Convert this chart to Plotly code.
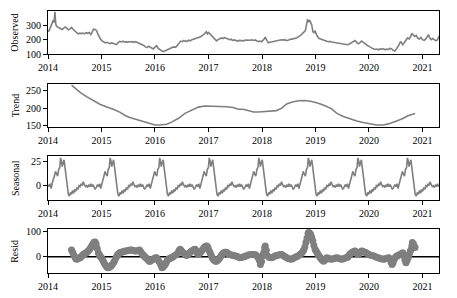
import pandas as pd
import plotly.graph_objects as go
from plotly.subplots import make_subplots

# ---------------- data (decimal years since 2014-01-01) ----------------
OBS_T = [0.00,0.02,0.04,0.06,0.08,0.10,0.115,0.125,0.13,0.14,0.15,0.17,0.20,0.23,0.26,0.29,0.32,0.35,0.38,0.41,
         0.44,0.47,0.50,0.53,0.56,0.59,0.62,0.65,0.68,0.71,0.74,0.77,0.80,0.83,0.85,0.88,0.91,0.93,0.95,0.98,
         1.01,1.04,1.07,1.10,1.13,1.16,1.19,1.22,1.25,1.28,1.31,1.34,1.37,1.40,1.43,1.46,1.49,1.52,1.55,1.58,
         1.61,1.64,1.67,1.70,1.73,1.76,1.79,1.82,1.85,1.88,1.91,1.94,1.97,2.00,2.03,2.06,2.09,2.12,2.15,2.18,
         2.21,2.24,2.27,2.30,2.33,2.36,2.39,2.42,2.45,2.48,2.51,2.54,2.57,2.60,2.63,2.66,2.69,2.72,2.75,2.78,
         2.81,2.84,2.87,2.90,2.93,2.96,2.98,3.00,3.03,3.06,3.09,3.12,3.15,3.18,3.21,3.24,3.27,3.30,3.33,3.36,
         3.39,3.42,3.45,3.48,3.51,3.54,3.57,3.60,3.63,3.66,3.69,3.72,3.75,3.78,3.81,3.84,3.87,3.90,3.93,3.96,
         3.99,4.03,4.06,4.09,4.12,4.15,4.18,4.21,4.24,4.27,4.30,4.33,4.36,4.39,4.42,4.45,4.48,4.51,4.54,4.57,
         4.60,4.63,4.66,4.69,4.72,4.75,4.78,4.81,4.83,4.85,4.87,4.89,4.91,4.93,4.95,4.97,4.99,5.01,5.03,5.06,
         5.09,5.12,5.15,5.18,5.21,5.24,5.27,5.30,5.33,5.36,5.39,5.42,5.45,5.48,5.51,5.54,5.57,5.60,5.63,5.66,
         5.69,5.72,5.74,5.77,5.80,5.83,5.86,5.88,5.91,5.94,5.97,6.00,6.03,6.06,6.09,6.12,6.15,6.18,6.21,6.24,
         6.27,6.30,6.33,6.36,6.39,6.42,6.45,6.48,6.50,6.53,6.56,6.59,6.61,6.63,6.66,6.69,6.72,6.75,6.78,6.80,
         6.82,6.85,6.88,6.91,6.94,6.97,7.00,7.03,7.06,7.09,7.11,7.13,7.16,7.19,7.22,7.25,7.28,7.31]
OBS_V = [255,262,280,300,322,335,318,360,392,330,300,290,282,275,270,278,288,280,268,275,
         285,272,262,250,240,245,242,246,240,248,244,250,236,255,272,270,262,240,222,205,
         192,185,178,182,175,172,178,176,168,166,180,188,184,190,183,186,182,187,184,186,
         182,187,180,176,172,165,160,150,145,155,150,140,136,150,158,140,132,125,118,122,
         128,133,138,142,148,150,148,162,180,190,186,195,190,188,196,192,200,203,208,212,
         210,218,225,232,242,255,240,250,238,228,218,200,192,200,208,212,208,214,210,206,
         200,203,195,198,192,190,195,193,196,192,197,196,192,196,199,195,198,190,186,190,
         185,200,217,195,178,182,185,188,186,192,194,196,199,197,200,195,194,200,205,204,
         210,208,214,220,230,240,250,262,300,340,325,335,318,300,255,248,262,240,225,210,
         205,200,196,192,189,186,188,184,182,178,180,175,172,170,168,166,168,165,170,178,
         185,192,194,180,172,180,190,185,175,168,160,154,145,140,136,132,135,130,136,134,
         138,130,135,132,140,138,126,122,130,145,165,188,175,165,180,200,212,205,222,245,
         235,222,230,210,205,215,200,195,205,220,235,215,200,208,198,192,200,225]

TREND_T = [0.44,0.50,0.60,0.72,0.85,0.97,1.10,1.22,1.35,1.44,1.53,1.66,1.78,1.91,2.00,2.09,2.22,2.31,2.44,2.56,
           2.69,2.81,2.93,3.09,3.21,3.34,3.46,3.56,3.65,3.74,3.84,3.93,4.02,4.15,4.27,4.37,4.46,4.55,4.68,4.80,
           4.93,5.05,5.18,5.30,5.40,5.52,5.64,5.77,5.89,6.02,6.14,6.27,6.36,6.49,6.61,6.74,6.86]
TREND_V = [266,257,245,233,222,211,203,197,188,179,173,168,162,156,152,152,154,160,171,185,
           195,203,206,206,206,204,202,197,197,193,189,189,190,191,193,200,212,217,221,222,
           219,214,207,198,185,176,169,163,159,155,152,152,155,162,169,179,185]

# one seasonal cycle (offsets in years within the cycle) and its period
SEAS_PERIOD = 0.926
SEAS_OFF = [0.000,0.02,0.04,0.06,0.08,0.10,0.12,0.14,0.16,0.18,0.20,0.22,0.235,0.25,0.265,0.28,0.30,0.32,0.34,0.36,
            0.38,0.40,0.42,0.44,0.46,0.48,0.50,0.52,0.54,0.56,0.58,0.60,0.62,0.64,0.66,0.68,0.70,0.72,0.74,0.76,
            0.78,0.80,0.82,0.84,0.86,0.88,0.90,0.915]
SEAS_V = [1,-1,2,-3,3,6,10,15,12,10,17,19,29,26,20,24,27,18,8,-2,
          -9,-11,-7,-9,-5,-8,-4,-6,-2,-4,0,-1,2,0,4,1,-1,0,-2,1,
          -1,2,-1,1,-1,-4,-2,0]

RESID_T = [0.44,0.46,0.48,0.50,0.52,0.54,0.56,0.58,0.60,0.62,0.64,0.66,0.68,0.70,0.72,0.74,0.76,0.78,0.80,0.82,
           0.84,0.86,0.88,0.90,0.92,0.94,0.96,0.98,1.00,1.02,1.04,1.06,1.08,1.10,1.12,1.14,1.16,1.18,1.20,1.22,
           1.24,1.26,1.28,1.30,1.32,1.34,1.36,1.38,1.41,1.44,1.47,1.50,1.53,1.56,1.59,1.62,1.65,1.68,1.71,1.73,
           1.75,1.77,1.79,1.81,1.83,1.85,1.87,1.89,1.91,1.93,1.95,1.97,1.99,2.01,2.03,2.05,2.07,2.09,2.11,2.13,
           2.15,2.17,2.19,2.21,2.23,2.25,2.27,2.29,2.31,2.34,2.37,2.40,2.43,2.45,2.47,2.49,2.51,2.53,2.55,2.57,
           2.59,2.61,2.63,2.65,2.67,2.70,2.73,2.75,2.77,2.79,2.81,2.83,2.85,2.87,2.89,2.91,2.93,2.95,2.97,2.99,
           3.01,3.03,3.05,3.07,3.09,3.11,3.13,3.15,3.17,3.19,3.21,3.23,3.25,3.27,3.29,3.31,3.33,3.35,3.37,3.40,
           3.43,3.46,3.49,3.52,3.55,3.58,3.61,3.64,3.67,3.70,3.73,3.76,3.79,3.82,3.85,3.88,3.91,3.93,3.95,3.97,
           3.99,4.01,4.03,4.05,4.06,4.08,4.10,4.13,4.16,4.19,4.22,4.25,4.28,4.31,4.34,4.37,4.40,4.43,4.46,4.49,
           4.52,4.55,4.58,4.61,4.64,4.67,4.70,4.72,4.74,4.76,4.78,4.80,4.82,4.84,4.86,4.87,4.89,4.91,4.93,4.95,
           4.97,4.99,5.01,5.03,5.05,5.07,5.09,5.11,5.13,5.15,5.17,5.19,5.21,5.24,5.27,5.30,5.33,5.36,5.39,5.42,
           5.45,5.48,5.51,5.54,5.57,5.60,5.62,5.64,5.66,5.68,5.70,5.72,5.74,5.76,5.78,5.80,5.82,5.84,5.86,5.88,
           5.90,5.93,5.96,5.99,6.02,6.05,6.08,6.11,6.14,6.17,6.20,6.23,6.26,6.29,6.32,6.35,6.37,6.39,6.41,6.43,
           6.45,6.47,6.49,6.51,6.53,6.55,6.57,6.59,6.61,6.63,6.65,6.67,6.69,6.71,6.73,6.75,6.77,6.79,6.80,6.81,
           6.83,6.85,6.86]
RESID_V = [26,18,8,0,-8,-10,-8,-5,-4,0,5,9,12,14,16,20,24,29,36,44,
           50,56,57,50,32,16,8,0,-4,-12,-20,-28,-34,-40,-43,-42,-38,-36,-30,-24,
           -17,-8,0,8,12,16,18,18,20,22,22,24,26,26,24,22,22,24,26,20,
           14,9,4,0,-4,-8,-12,-17,-17,-14,-10,-10,-7,-4,-4,-10,-16,-23,-32,-43,
           -40,-34,-30,-22,-14,-10,-7,-5,-4,0,5,9,16,24,29,24,18,16,12,8,
           5,8,12,16,20,24,28,29,22,14,9,14,18,22,28,34,39,41,42,36,
           24,16,6,-4,-10,-14,-17,-17,-14,-10,-4,2,8,14,16,18,18,16,12,9,
           7,5,4,2,0,-4,-3,-1,0,3,6,8,9,9,9,8,2,-4,-14,-30,
           -18,4,16,35,42,25,4,-2,-4,-3,0,4,5,7,9,9,4,0,-4,-7,
           -9,-10,-7,-3,0,3,7,10,15,20,26,38,55,72,90,94,92,87,75,61,
           44,29,22,16,8,2,-4,-10,-14,-17,-14,-9,-4,-6,-9,-10,-8,-6,-4,-5,
           -8,-10,-9,-6,-4,-2,4,10,14,16,19,21,22,17,12,9,14,19,22,21,
           19,18,14,9,7,5,4,1,-2,-4,-6,-8,-10,-9,-7,-5,-4,-10,-20,-30,
           -22,-10,-3,2,4,6,8,10,13,16,5,-12,-23,-15,-4,10,22,29,42,55,
           50,40,36]

X_START = "2014-01-01"
X_END = "2021-04-23"
TICK_YEARS = ["2014", "2015", "2016", "2017", "2018", "2019", "2020", "2021"]
PANEL_TITLES = ["Observed", "Trend", "Seasonal", "Resid"]

# ---------------- helpers ----------------
BASE = pd.Timestamp(X_START)


def to_dates(ts):
    return [BASE + pd.Timedelta(days=float(t) * 365.25) for t in ts]


# seasonal component repeats with its period over the whole span
seas_t, seas_v = [], []
k = 0
while k * SEAS_PERIOD < 7.32:
    for o, v in zip(SEAS_OFF, SEAS_V):
        t = k * SEAS_PERIOD + o
        if t <= 7.31:
            seas_t.append(t)
            seas_v.append(v)
    k += 1

GRAY = "#7f7f7f"
FONT = "Liberation Serif"

fig = make_subplots(rows=4, cols=1, shared_xaxes=False)

fig.add_trace(go.Scatter(x=to_dates(OBS_T), y=OBS_V, mode="lines",
                         line=dict(color=GRAY, width=1.6)), row=1, col=1)
fig.add_trace(go.Scatter(x=to_dates(TREND_T), y=TREND_V, mode="lines",
                         line=dict(color=GRAY, width=1.6)), row=2, col=1)
fig.add_trace(go.Scatter(x=to_dates(seas_t), y=seas_v, mode="lines",
                         line=dict(color=GRAY, width=1.6)), row=3, col=1)
fig.add_trace(go.Scatter(x=[X_START, X_END], y=[0, 0], mode="lines",
                         line=dict(color="black", width=1.5)), row=4, col=1)
fig.add_trace(go.Scatter(x=to_dates(RESID_T), y=RESID_V, mode="markers",
                         marker=dict(color=GRAY, size=7, line=dict(width=0))), row=4, col=1)

W, H = 457, 298
x0, x1 = 48 / W, 439 / W
ydoms = [(11, 54.3), (84, 126.7), (156, 200), (229, 272.7)]
yranges = [[99, 398], [147, 269], [-15, 31], [-62, 108]]
yticks = [[100, 200, 300], [150, 200, 250], [0, 25], [0, 100]]

for i in range(4):
    top, bot = ydoms[i]
    dom = [1 - bot / H, 1 - top / H]
    xa = "xaxis" if i == 0 else f"xaxis{i + 1}"
    ya = "yaxis" if i == 0 else f"yaxis{i + 1}"
    fig.layout[xa].update(
        domain=[x0, x1], range=[X_START, X_END], type="date",
        tickvals=[f"{y}-01-01" for y in TICK_YEARS], ticktext=TICK_YEARS,
        ticks="outside", ticklen=4, tickwidth=1, tickcolor="black",
        showline=True, linecolor="black", linewidth=1, mirror=True,
        showgrid=False, zeroline=False, automargin=False,
        tickfont=dict(family=FONT, size=10, color="black"))
    fig.layout[ya].update(
        domain=dom, range=yranges[i], tickvals=yticks[i],
        ticks="outside", ticklen=4, tickwidth=1, tickcolor="black",
        showline=True, linecolor="black", linewidth=1, mirror=True,
        showgrid=False, zeroline=False, automargin=False,
        tickfont=dict(family=FONT, size=10, color="black"))
    fig.add_annotation(text=PANEL_TITLES[i], textangle=-90, xref="paper", yref="paper",
                       x=15 / W, y=(dom[0] + dom[1]) / 2, xanchor="center", yanchor="middle",
                       showarrow=False, font=dict(family=FONT, size=10, color="black"))

fig.update_layout(width=W, height=H, margin=dict(l=0, r=0, t=0, b=0, autoexpand=False),
                  showlegend=False, plot_bgcolor="white", paper_bgcolor="white",
                  template="none", font=dict(family=FONT, size=10, color="black"))

fig.write_html("out.html", config={"displayModeBar": False},
               post_script="document.body.style.margin='0px';document.body.style.overflow='hidden';")
